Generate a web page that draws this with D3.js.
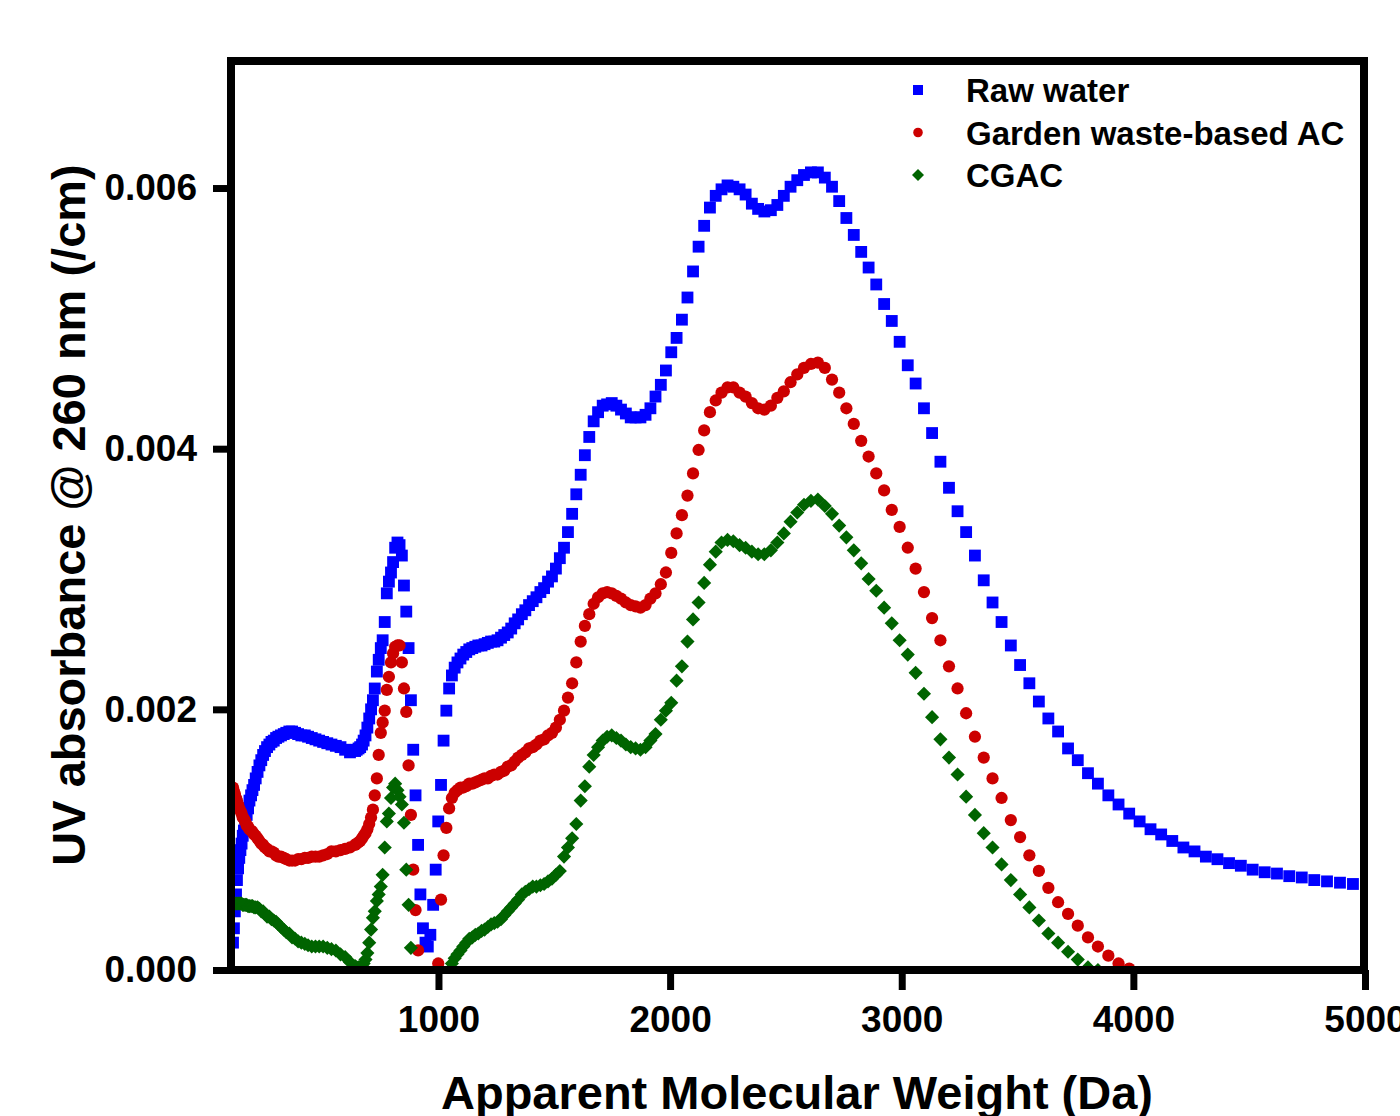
<!DOCTYPE html>
<html>
<head>
<meta charset="utf-8">
<script src="https://d3js.org/d3.v7.min.js"></script>
<style>
  body { margin: 0; background: #fff; }
  text { font-family: "Liberation Sans", Arial, sans-serif; font-weight: bold; fill: #000; }
</style>
</head>
<body>
<div id="chart"></div>
<script>
// Apparent molecular weight (Da) of each point, shared by the three series
const molWeight = [
  113,117,121,126,130,135,140,145,150,155,160,166,172,178,184,191,197,204,211,219,
  227,235,243,251,260,270,279,289,299,309,320,332,343,356,368,381,394,408,423,437,
  453,469,485,502,520,538,557,577,597,618,
  640,647,655,662,670,677,685,693,701,709,717,725,734,742,751,759,768,777,786,795,
  804,813,823,832,842,851,861,871,881,891,901,912,922,933,944,954,965,977,988,999,
  1011,1022,1034,1046,1058,1070,1082,1095,1107,1120,1133,1146,1159,1172,1186,1199,1213,1227,1241,1255,
  1270,1284,1299,1314,1329,1344,1360,1375,1391,1407,1423,1440,1456,1473,1490,1507,1524,1542,1559,1577,
  1595,1614,1632,1651,1670,1689,1709,1728,1748,1768,1788,1809,1830,1851,1872,1894,1915,1937,1960,1982,
  2005,2028,2051,2075,2099,2123,2147,2172,2197,2222,2248,2273,2300,2326,2353,2380,2407,2435,2463,2491,
  2520,2549,2578,2608,2638,2668,2699,2730,2761,2793,2825,2857,2890,2924,2957,2991,3026,3060,3096,3131,
  3167,3204,3241,3278,3316,3354,3392,3431,3471,3511,3551,3592,3633,3675,3718,3760,3804,3847,3892,3936,
  3982,4027,4074,4120,4168,4216,4264,4313,4363,4413,4464,4515,4567,4620,4673,4727,4781,4836,4892,4948
];

// UV absorbance @ 260 nm (/cm); null = point falls below the axis and is not shown
const rawWater = [
  0.00021,0.00032,0.00045,0.00058,0.00069,0.00078,0.00086,0.00092,0.00097,0.00103,
  0.00107,0.00114,0.00119,0.00124,0.0013,0.00134,0.00138,0.00142,0.00147,0.00152,
  0.00157,0.00161,0.00165,0.00168,0.00171,0.00173,0.00175,0.00176,0.00178,0.00179,
  0.0018,0.00181,0.00182,0.00183,0.00183,0.00182,0.00181,0.0018,0.0018,0.00179,
  0.00178,0.00177,0.00176,0.00175,0.00174,0.00173,0.00172,0.00171,0.00169,0.00167,
  0.00168,0.00169,0.0017,0.00171,0.00173,0.00176,0.0018,0.00186,0.00193,0.002,
  0.00207,0.00216,0.00229,0.00238,0.00247,0.00253,0.00267,0.00289,0.00298,0.00305,
  0.00313,0.00324,0.00328,0.00326,0.00318,0.00295,0.00275,0.00247,0.00207,0.00169,
  0.00134,0.00096,0.00058,0.00032,0.00021,0.00018,0.00027,0.0005,0.00077,0.00114,
  0.00142,0.00176,0.00199,0.00216,0.00226,0.00232,0.00236,0.00239,0.00242,0.00244,
  0.00246,0.00247,0.00248,0.00249,0.00249,0.0025,0.00251,0.00252,0.00252,0.00253,
  0.00255,0.00257,0.00259,0.00262,0.00266,0.00269,0.00273,0.00276,0.0028,0.00283,
  0.00286,0.0029,0.00293,0.00298,0.00302,0.00308,0.00316,0.00324,0.00336,0.0035,
  0.00365,0.0038,0.00395,0.00409,0.00421,0.00428,0.00433,0.00434,0.00435,0.00433,
  0.0043,0.00427,0.00424,0.00424,0.00424,0.00426,0.00431,0.0044,0.00449,0.0046,
  0.00474,0.00485,0.00499,0.00516,0.00536,0.00555,0.00571,0.00585,0.00594,0.00599,
  0.00602,0.00601,0.00599,0.00595,0.00588,0.00584,0.00582,0.00583,0.00587,0.00594,
  0.00601,0.00606,0.0061,0.00612,0.00612,0.00608,0.00601,0.0059,0.00577,0.00564,
  0.00551,0.00539,0.00526,0.00511,0.00498,0.00482,0.00464,0.0045,0.00431,0.00412,
  0.0039,0.0037,0.00352,0.00336,0.00318,0.00299,0.00282,0.00267,0.00249,0.00234,
  0.0022,0.00206,0.00193,0.00183,0.0017,0.00161,0.00151,0.00143,0.00134,0.00127,
  0.0012,0.00114,0.00108,0.00104,0.00099,0.00094,0.00091,0.00087,0.00085,0.00082,
  0.0008,0.00077,0.00075,0.00074,0.00072,0.00071,0.00069,0.00068,0.00067,0.00066
];

const gardenWasteAC = [
  0.0014,0.00137,0.00135,0.00132,0.0013,0.00127,0.00124,0.00122,0.0012,0.00117,
  0.00116,0.00114,0.00111,0.0011,0.00108,0.00107,0.00106,0.00104,0.00103,0.00101,
  0.00099,0.00097,0.00096,0.00094,0.00093,0.00091,0.00091,0.0009,0.00088,0.00087,
  0.00087,0.00086,0.00085,0.00084,0.00084,0.00084,0.00085,0.00085,0.00086,0.00086,
  0.00087,0.00087,0.00087,0.00088,0.00089,0.00091,0.00091,0.00092,0.00093,0.00094,
  0.00096,0.00097,0.00098,0.00099,0.00101,0.00103,0.00105,0.00108,0.00112,0.00117,
  0.00123,0.00134,0.00147,0.00165,0.00182,0.0019,0.00199,0.00215,0.00225,0.00236,
  0.00243,0.00248,0.00249,0.00249,0.00236,0.00216,0.00198,0.00157,0.00119,0.00077,
  0.00046,0.00015,null,null,null,null,null,null,null,0.00005,
  0.00054,0.00088,0.00109,0.00124,0.00132,0.00136,0.00138,0.0014,0.0014,0.00141,
  0.00143,0.00143,0.00144,0.00145,0.00146,0.00147,0.00147,0.00149,0.0015,0.0015,
  0.00152,0.00153,0.00156,0.00157,0.0016,0.00163,0.00165,0.00167,0.0017,0.00171,
  0.00173,0.00176,0.00177,0.0018,0.00182,0.00186,0.00192,0.00199,0.00209,0.0022,
  0.00236,0.00252,0.00264,0.00273,0.00281,0.00286,0.00289,0.0029,0.00289,0.00287,
  0.00285,0.00282,0.0028,0.00279,0.00278,0.0028,0.00285,0.00289,0.00296,0.00305,
  0.0032,0.00335,0.00349,0.00364,0.00381,0.00399,0.00414,0.00428,0.00437,0.00443,
  0.00447,0.00447,0.00443,0.0044,0.00435,0.00431,0.0043,0.00433,0.00439,0.00444,
  0.00451,0.00457,0.00462,0.00465,0.00466,0.00462,0.00453,0.00443,0.00431,0.00419,
  0.00406,0.00394,0.00381,0.00368,0.00353,0.0034,0.00324,0.00308,0.0029,0.0027,
  0.00253,0.00233,0.00216,0.00197,0.00179,0.00163,0.00147,0.00132,0.00115,0.00102,
  0.00088,0.00076,0.00063,0.00052,0.00043,0.00034,0.00025,0.00018,0.00011,0.00005,
  0.00001,null,null,null,null,null,null,null,null,null,
  null,null,null,null,null,null,null,null,null,null
];

const cgac = [
  0.00051,0.00051,0.00051,0.00051,0.00051,0.00051,0.00051,0.00051,0.00051,0.0005,
  0.0005,0.0005,0.0005,0.00049,0.00049,0.00049,0.00049,0.00048,0.00048,0.00048,
  0.00047,0.00045,0.00045,0.00043,0.00041,0.00041,0.00039,0.00038,0.00037,0.00035,
  0.00033,0.00031,0.00029,0.00028,0.00025,0.00024,0.00022,0.00021,0.0002,0.00019,
  0.00018,0.00018,0.00018,0.00018,0.00017,0.00016,0.00015,0.00012,0.0001,0.00006,
  0.00003,0.00002,0.00002,0.00002,0.00003,0.00005,0.00008,0.00013,0.00021,0.00031,
  0.0004,0.00045,0.00053,0.00058,0.00064,0.00073,0.00094,0.00114,0.0012,0.00132,
  0.0014,0.00143,0.00138,0.00133,0.00127,0.00113,0.00077,0.0005,0.00017,null,
  null,null,null,null,null,null,null,null,null,null,
  null,null,null,null,0.00005,0.00009,0.00012,0.00015,0.00018,0.00021,
  0.00024,0.00025,0.00027,0.00028,0.0003,0.00031,0.00033,0.00035,0.00036,0.00037,
  0.00039,0.00042,0.00045,0.00048,0.00051,0.00054,0.00058,0.0006,0.00062,0.00064,
  0.00064,0.00065,0.00066,0.00068,0.0007,0.00073,0.00076,0.00087,0.00094,0.00101,
  0.00112,0.0013,0.00141,0.00156,0.00165,0.00171,0.00176,0.00179,0.0018,0.00178,
  0.00176,0.00173,0.00171,0.0017,0.00169,0.00171,0.00176,0.00181,0.00192,0.00199,
  0.00205,0.00222,0.00233,0.00252,0.00269,0.00282,0.00297,0.00311,0.00321,0.00328,
  0.0033,0.00329,0.00326,0.00324,0.00321,0.00319,0.00319,0.00322,0.00328,0.00335,
  0.00344,0.00351,0.00357,0.0036,0.00361,0.00356,0.0035,0.00341,0.00332,0.00322,
  0.00312,0.003,0.00291,0.00278,0.00266,0.00253,0.00242,0.00228,0.00212,0.00194,
  0.00177,0.00163,0.0015,0.00133,0.00119,0.00105,0.00094,0.00081,0.00069,0.00058,
  0.00048,0.00038,0.00028,0.00021,0.00014,0.00008,0.00002,0,null,null,
  null,null,null,null,null,null,null,null,null,null,
  null,null,null,null,null,null,null,null,null,null
];

const seriesNames = ["Raw water", "Garden waste-based AC", "CGAC"];
const xTicks = [1000, 2000, 3000, 4000, 5000];
const yTicks = [0, 0.002, 0.004, 0.006];

// Layout
const width = 1400, height = 1116;
const plot = { left: 231, right: 1364, top: 61, bottom: 970 };

const svg = d3.select("#chart").append("svg")
    .attr("width", width)
    .attr("height", height);

svg.append("rect").attr("width", width).attr("height", height).attr("fill", "#fff");

// Scales
const x = d3.scaleLinear().domain([100, 5000]).range([230, 1365]);
const y = d3.scaleLinear().domain([0, 0.007]).range([970, 57.7]);

// Clip markers to the inside of the frame
svg.append("clipPath").attr("id", "plot-clip")
    .append("rect")
    .attr("x", plot.left).attr("y", plot.top)
    .attr("width", plot.right - plot.left).attr("height", plot.bottom - plot.top);

// Series styles (blue squares, red circles, green diamonds)
const series = [
    { name: seriesNames[0], values: rawWater, color: "#0000ff", shape: d3.symbolSquare, size: 140, rotate: 0, legendSize: 100 },
    { name: seriesNames[1], values: gardenWasteAC, color: "#cc0000", shape: d3.symbolCircle, size: 118, rotate: 0, legendSize: 72 },
    { name: seriesNames[2], values: cgac, color: "#006400", shape: d3.symbolSquare, size: 100, rotate: 45, legendSize: 72 }
];

const marks = svg.append("g").attr("clip-path", "url(#plot-clip)");

series.forEach((s) => {
    const pts = molWeight
        .map((m, i) => ({ m: m, v: s.values[i] }))
        .filter((d) => d.v !== null);

    marks.append("g")
        .selectAll("path")
        .data(pts)
        .join("path")
        .attr("d", d3.symbol(s.shape, s.size))
        .attr("transform", (d) => `translate(${x(d.m)},${y(d.v)}) rotate(${s.rotate})`)
        .attr("fill", s.color);
});

// Axes
const yAxis = svg.append("g")
    .attr("transform", `translate(${plot.left},0)`)
    .call(d3.axisLeft(y).tickValues(yTicks).tickFormat(d3.format(".3f")).tickSize(18).tickPadding(16));

const xAxis = svg.append("g")
    .attr("transform", `translate(0,${plot.bottom})`)
    .call(d3.axisBottom(x).tickValues(xTicks).tickFormat(d3.format("d")).tickSize(20).tickPadding(16));

[xAxis, yAxis].forEach((g) => {
    g.select(".domain").remove();
    g.selectAll(".tick line").attr("stroke", "#000").attr("stroke-width", 7);
    g.selectAll(".tick text")
        .style("font-family", "'Liberation Sans', Arial, sans-serif")
        .style("font-weight", "bold")
        .style("font-size", "37px")
        .attr("fill", "#000");
});

// Thick frame round the plot
svg.append("rect")
    .attr("x", plot.left)
    .attr("y", plot.top)
    .attr("width", plot.right - plot.left)
    .attr("height", plot.bottom - plot.top)
    .attr("fill", "none")
    .attr("stroke", "#000")
    .attr("stroke-width", 8);

// Axis titles
svg.append("text")
    .attr("x", 797)
    .attr("y", 1109)
    .attr("text-anchor", "middle")
    .style("font-size", "47px")
    .text("Apparent Molecular Weight (Da)");

svg.append("text")
    .attr("transform", "translate(85,515) rotate(-90)")
    .attr("text-anchor", "middle")
    .style("font-size", "47px")
    .text("UV absorbance @ 260 nm (/cm)");

// Legend
const legend = svg.append("g").attr("transform", "translate(918,90)");

series.forEach((s, i) => {
    const row = legend.append("g").attr("transform", `translate(0,${i * 42.5})`);
    row.append("path")
        .attr("d", d3.symbol(s.shape, s.legendSize))
        .attr("transform", `rotate(${s.rotate})`)
        .attr("fill", s.color);
    row.append("text")
        .attr("x", 48)
        .attr("y", 12)
        .style("font-size", "33px")
        .text(s.name);
});
</script>
</body>
</html>
